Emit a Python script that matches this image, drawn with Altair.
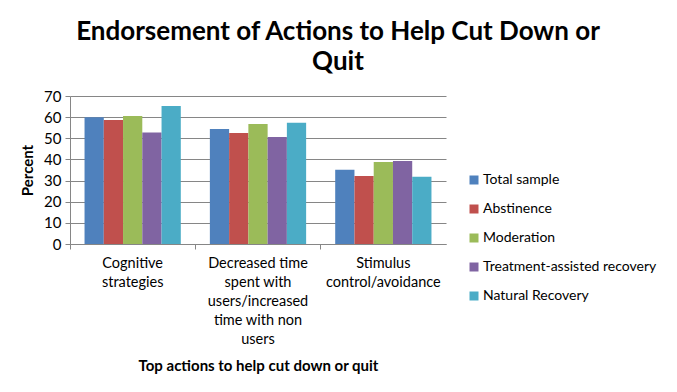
import altair as alt
import pandas as pd

categories = ["Cognitive strategies",
              "Decreased time spent with users/increased time with non users",
              "Stimulus control/avoidance"]
series = ["Total sample", "Abstinence", "Moderation",
          "Treatment-assisted recovery", "Natural Recovery"]
total_sample = [59.9, 54.4, 35.1]
abstinence = [58.6, 52.5, 32.2]
moderation = [60.5, 56.8, 38.8]
treatment_assisted = [52.7, 50.6, 39.3]
natural_recovery = [65.3, 57.4, 31.8]
colors = ["#4F81BD", "#C0504D", "#9BBB59", "#8064A2", "#4BACC6"]

series_values = [total_sample, abstinence, moderation, treatment_assisted, natural_recovery]
rows = []
for s, vals in zip(series, series_values):
    for c, v in zip(categories, vals):
        rows.append({"category": c, "series": s, "value": v})
df = pd.DataFrame(rows)

label_expr = (
    "datum.value == 'Cognitive strategies' ? ['Cognitive', 'strategies'] : "
    "datum.value == 'Stimulus control/avoidance' ? ['Stimulus', 'control/avoidance'] : "
    "['Decreased time', 'spent with', 'users/increased', 'time with non', 'users']"
)

FONT = "Lato"

chart = alt.Chart(df).mark_bar().encode(
    x=alt.X("category:N", sort=categories,
            scale=alt.Scale(paddingInner=0, paddingOuter=0),
            axis=alt.Axis(title="Top actions to help cut down or quit",
                          labelAngle=0, labelExpr=label_expr,
                          labelLineHeight=19, labelPadding=7,
                          bandPosition=0, tickSize=5, tickColor="#868686",
                          domainColor="#868686", labelFontSize=14.5,
                          titleFontSize=15, titleFontWeight="bold",
                          titlePadding=13, grid=False)),
    xOffset=alt.XOffset("series:N", sort=series,
                        scale=alt.Scale(paddingInner=0, paddingOuter=0.755)),
    y=alt.Y("value:Q",
            scale=alt.Scale(domain=[0, 70]),
            axis=alt.Axis(title="Percent", values=list(range(0, 71, 10)),
                          tickSize=5, tickColor="#868686", domainColor="#868686",
                          gridColor="#868686", labelFontSize=15,
                          titleFontSize=15, titleFontWeight="bold",
                          titlePadding=8, labelPadding=4)),
    color=alt.Color("series:N", sort=series,
                    scale=alt.Scale(domain=series, range=colors),
                    legend=alt.Legend(title=None, orient="none",
                                      legendX=397, legendY=77,
                                      symbolType="square", symbolSize=81,
                                      symbolStrokeWidth=0, labelLimit=0,
                                      labelFontSize=14, rowPadding=15,
                                      labelOffset=2)),
).properties(
    width=376, height=148,
    title=alt.TitleParams(
        text=["Endorsement of Actions to Help Cut Down or", "Quit"],
        fontSize=26, fontWeight="bold", font=FONT, color="black",
        anchor="middle", dx=80, offset=14, lineHeight=30),
    autosize=alt.AutoSizeParams(type="none"),
    padding={"left": 62, "top": 88, "right": 222, "bottom": 130},
).configure(font=FONT).configure_axis(
    labelColor="black", titleColor="black", labelFont=FONT, titleFont=FONT
).configure_legend(labelFont=FONT, labelColor="black").configure_view(stroke=None)

chart.save("out.html", embed_options={"renderer": "svg", "actions": False})
